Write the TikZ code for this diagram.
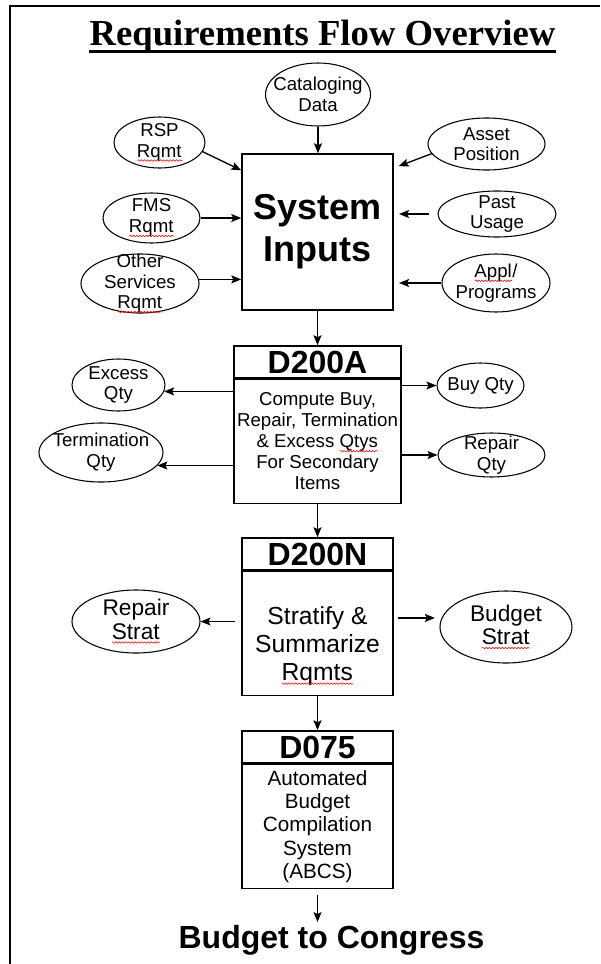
\documentclass[tikz,border=0pt]{standalone}
\usepackage{fontspec}
\setmainfont{Liberation Sans}
\newfontfamily\titlefont{Liberation Serif}
\usetikzlibrary{shapes, arrows, positioning, shapes.geometric}
\usetikzlibrary{arrows.meta, decorations.pathmorphing}

% red wavy spell-check mark
\newsavebox{\spellbox}
\newcommand{\spell}[1]{\sbox{\spellbox}{#1}\rlap{\usebox{\spellbox}}%
  \tikz[baseline=2.5pt, x=1pt, y=1pt]\draw[red, line width=0.4pt, decorate,
    decoration={snake, amplitude=0.6pt, segment length=2.4pt}] (0,0) -- (\wd\spellbox,0);}

\begin{document}
\begin{tikzpicture}[
    x=0.75pt, y=-0.75pt,
    font=\fontsize{14}{15.5}\selectfont,
    inbox/.style={rectangle, draw, line width=1.1pt, minimum width=113.25pt,
                  minimum height=117pt, inner sep=0pt, align=center},
    head/.style={rectangle, draw, line width=1.1pt, minimum width=113.25pt, minimum height=24pt,
                 inner sep=0pt, font=\fontsize{24}{26}\selectfont\bfseries},
    body/.style={rectangle, draw, line width=1.1pt, minimum width=113.25pt, minimum height=93pt,
                 inner sep=0pt, align=center},
    entity/.style={ellipse, draw, line width=0.8pt, inner sep=-1cm, align=center},
    arrow/.style={->, >={Stealth[length=7.5pt, width=6pt, inset=1.5pt]}, line width=1pt}
]
\useasboundingbox (0,0) rectangle (600,964);

% --- Marco y titulo ---
\draw[line width=1.6pt] (600,6) -- (9.6,6) -- (9.6,964);
\node[font=\titlefont\bfseries\fontsize{27.5}{30}\selectfont, anchor=base, inner sep=0pt] (title)
    at (322.5,45) {Requirements Flow Overview};
\draw[line width=2pt] ([yshift=-5pt]title.base west) -- ([yshift=-5pt]title.base east);

% --- Entradas del sistema ---
\node[inbox, font=\fontsize{27}{31.5}\selectfont\bfseries] (sys) at (317.5,232) {System\\Inputs};

\node[entity, minimum width=78.75pt, minimum height=47.25pt] (cat) at (318,94.5) {Cataloging\\Data};
\node[entity, minimum width=68.25pt, minimum height=38.25pt] (rsp) at (159.5,142.5) {RSP\\\spell{Rqmt}};
\node[entity, minimum width=87.75pt, minimum height=39pt] (asset) at (486.5,144) {Asset\\Position};
\node[entity, minimum width=72.75pt, minimum height=37.5pt] (fms) at (151.5,218) {FMS\\\spell{Rqmt}};
\node[entity, minimum width=88.5pt, minimum height=34.5pt] (past) at (497,214) {Past\\Usage};
\node[entity, minimum width=88.5pt, minimum height=44.25pt] (other) at (140,283.5) {Other\\Services\\\spell{Rqmt}};
\node[entity, minimum width=81pt, minimum height=43.5pt] (appl) at (496,283) {\spell{Appl}/\\Programs};

% --- D200A ---
\node[head, minimum width=125.25pt] (ahead) at (317.5,362) {D200A};
\node[body, minimum width=125.25pt, below=0pt of ahead, font=\fontsize{14}{15.75}\selectfont] (abody)
    {Compute Buy,\\Repair, Termination\\\& Excess \spell{Qtys}\\For Secondary\\Items};

\node[entity, minimum width=69.75pt, minimum height=39pt] (excess) at (118.5,385) {Excess\\Qty};
\node[entity, minimum width=93pt, minimum height=44.25pt] (term) at (101,452.5) {Termination\\Qty};
\node[entity, minimum width=65.25pt, minimum height=33.75pt] (buy) at (480.5,385.5) {Buy Qty};
\node[entity, minimum width=80.25pt, minimum height=33pt] (repq) at (491.5,455) {Repair\\Qty};

% --- D200N ---
\node[head] (nhead) at (317.5,554) {D200N};
\node[body, below=0pt of nhead, font=\fontsize{18.5}{21}\selectfont] (nbody)
    {\rule{0pt}{32pt}Stratify \&\\Summarize\\\spell{Rqmts}};

\node[entity, minimum width=96pt, minimum height=47.25pt, font=\fontsize{17}{17.5}\selectfont] (rstrat)
    at (136,621.5) {Repair\\\spell{Strat}};
\node[entity, minimum width=99pt, minimum height=54pt, font=\fontsize{17}{17.5}\selectfont] (bstrat)
    at (506,627) {Budget\\\spell{Strat}};

% --- D075 ---
\node[head] (dhead) at (317.5,747) {D075};
\node[body, below=0pt of dhead, font=\fontsize{15.5}{17.5}\selectfont] (dbody)
    {Automated\\Budget\\Compilation\\System\\(ABCS)};

\node[font=\fontsize{24}{26}\selectfont\bfseries, inner sep=2pt] (congress) at (331.5,940) {Budget to Congress};

% --- Flechas ---
\draw[arrow] (cat) -- (cat |- sys.north);
\draw[arrow] (rsp.-12) -- (sys.141.5);
\draw[arrow, shorten >=4pt] (asset.190) -- (sys.40.7);
\draw[arrow] (fms.east) -- (fms.east -| sys.west);
\draw[arrow, shorten >=4pt, shorten <=6pt] (past.west) -- (past.west -| sys.east);
\draw[arrow] (other.4) -- (other.4 -| sys.west);
\draw[arrow, shorten >=4pt] (appl.west) -- (appl.west -| sys.east);

\draw[arrow] (sys) -- (ahead);
\draw[arrow] (abody.west |- excess.-8) -- (excess.-8);
\draw[arrow] (abody.west |- term.-13) -- (term.-13);
\draw[arrow] (abody.east |- buy.west) -- (buy.west);
\draw[arrow] (abody.east |- repq.west) -- (repq.west);

\draw[arrow] (abody) -- (nhead);
\draw[arrow, shorten <=5pt] (nbody.west |- rstrat.east) -- (rstrat.east);
\draw[arrow, shorten <=3pt, shorten >=5pt] (nbody.east |- bstrat.172) -- (bstrat.172);

\draw[arrow] (nbody) -- (dhead);
\draw[arrow, shorten <=4pt] (dbody.south) -- (dbody.south |- congress.north);

\end{tikzpicture}
\end{document}
